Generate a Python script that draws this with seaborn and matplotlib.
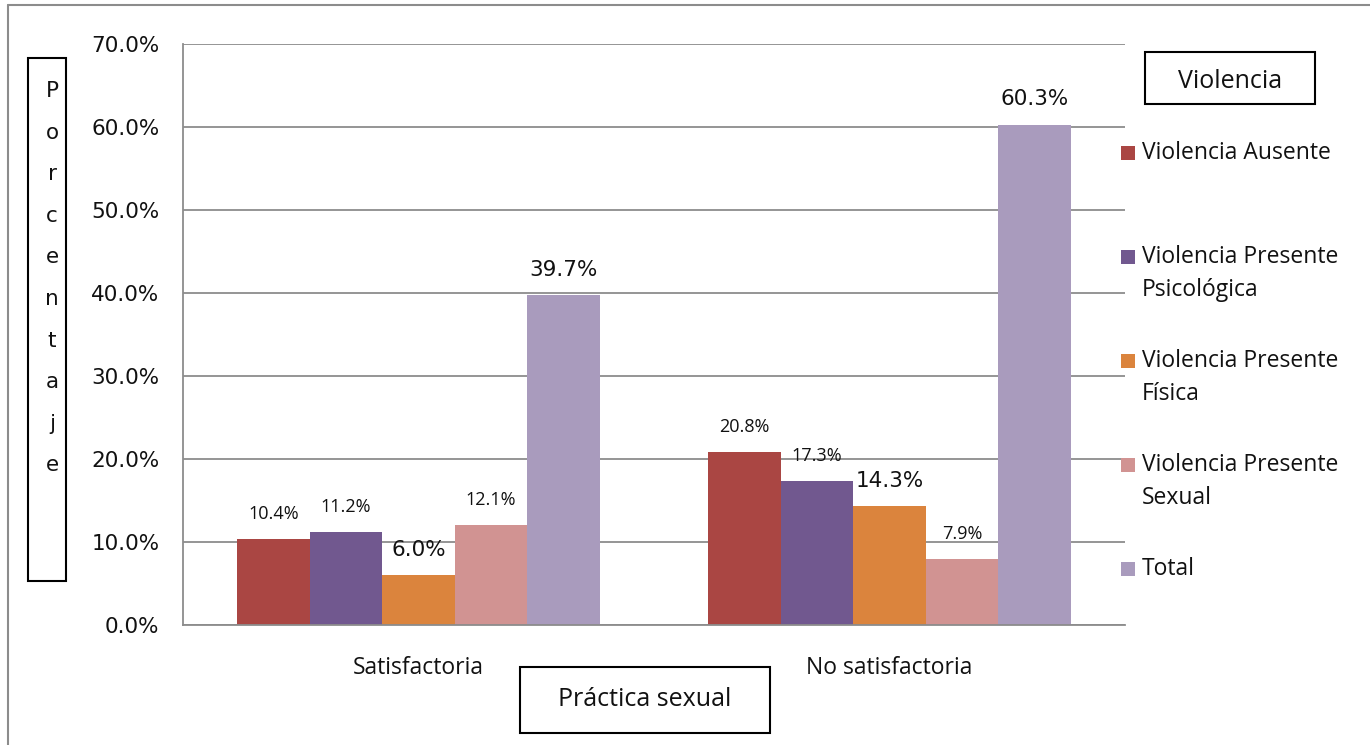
import pandas as pd
import matplotlib.pyplot as plt
import seaborn as sns
from matplotlib.patches import Rectangle
from matplotlib.lines import Line2D
from matplotlib.ticker import FuncFormatter

# data
categories = ["Satisfactoria", "No satisfactoria"]
series = ["Violencia Ausente", "Violencia Presente\nPsicológica",
          "Violencia Presente\nFísica", "Violencia Presente\nSexual", "Total"]
ausente = [10.4, 20.8]
psicologica = [11.2, 17.3]
fisica = [6.0, 14.3]
sexual = [12.1, 7.9]
total = [39.7, 60.3]
yticks = [0, 10, 20, 30, 40, 50, 60, 70]

colors = ["#AA4643", "#71588F", "#DB843D", "#D19392", "#A99BBD"]
# Física and Total use a bigger label font in the original
big_labels = [False, False, True, False, True]

df = pd.DataFrame({
    "Practica": categories * 5,
    "Violencia": [s for s in series for _ in categories],
    "Porcentaje": ausente + psicologica + fisica + sexual + total,
})

sns.set_style("white")
plt.rcParams["font.family"] = ["Open Sans", "DejaVu Sans"]

W, H = 1370, 745
fig = plt.figure(figsize=(W / 100, H / 100), dpi=100)


def px(x, y):
    return x / W, 1 - y / H


ax = fig.add_axes([183 / W, 1 - 625 / H, (1125 - 183) / W, (625 - 44) / H])
sns.barplot(data=df, x="Practica", y="Porcentaje", hue="Violencia",
            order=categories, hue_order=series, palette=colors,
            width=0.77, gap=0, saturation=1, legend=False, ax=ax)

for bars in ax.patches:
    bars.set_edgecolor("none")

# data labels
for cont, big in zip(ax.containers, big_labels):
    vals = cont.datavalues
    ax.bar_label(cont, labels=[f"{v:.1f}%" for v in vals],
                 padding=11 if big else 11.5,
                 fontsize=15.5 if big else 13,
                 family="DejaVu Sans" if big else "Open Sans",
                 color="#111111")

ax.set_xlim(-0.5, 1.5)
ax.set_ylim(0, 70)
ax.set_yticks(yticks)
ax.yaxis.set_major_formatter(FuncFormatter(lambda v, _: f"{v:.1f}%"))
ax.set_xlabel("")
ax.set_ylabel("")
ax.grid(axis="y", color="#8c8c8c", linewidth=1.3)
ax.set_axisbelow(True)

for side in ["top", "right"]:
    ax.spines[side].set_visible(False)
for side in ["left", "bottom"]:
    ax.spines[side].set_color("#8c8c8c")
    ax.spines[side].set_linewidth(1.3)

ax.tick_params(axis="y", length=7, width=1.2, color="#8c8c8c", pad=10,
               labelsize=15.5, labelcolor="#111111")
for lab in ax.get_yticklabels():
    lab.set_family("DejaVu Sans")
ax.tick_params(axis="x", which="major", length=0, pad=22, labelsize=16.5,
               labelcolor="#111111")
ax.set_xticks([-0.5, 0.5, 1.5], minor=True)
ax.tick_params(axis="x", which="minor", length=7, width=1.2, color="#8c8c8c")

# outer border (left and top visible)
fig.add_artist(Line2D([px(8, 0)[0], px(8, 0)[0]], [px(0, 5)[1], 0],
                      color="#8c8c8c", lw=1.5, transform=fig.transFigure))
fig.add_artist(Line2D([px(8, 0)[0], 1], [px(0, 5)[1], px(0, 5)[1]],
                      color="#8c8c8c", lw=1.5, transform=fig.transFigure))

# y axis title box with stacked letters
x0, y0 = px(28, 581)
fig.add_artist(Rectangle((x0, y0), 38 / W, (581 - 58) / H, fill=False,
                         edgecolor="black", lw=1.5, transform=fig.transFigure))
for i, ch in enumerate("Porcentaje"):
    fig.text(*px(52, 91 + 41.6 * i), ch, ha="center", va="center",
             fontsize=15.5, family="DejaVu Sans", color="#111111")

# x axis title box
x0, y0 = px(520, 733)
fig.add_artist(Rectangle((x0, y0), 250 / W, 66 / H, fill=False,
                         edgecolor="black", lw=1.5, transform=fig.transFigure))
fig.text(*px(645, 699), "Práctica sexual", ha="center", va="center",
         fontsize=18, color="#111111")

# legend title box
x0, y0 = px(1145, 104)
fig.add_artist(Rectangle((x0, y0), 170 / W, 52 / H, fill=False,
                         edgecolor="black", lw=1.5, transform=fig.transFigure))
fig.text(*px(1230, 81), "Violencia", ha="center", va="center",
         fontsize=18, color="#111111")

# legend entries
for i, (name, col) in enumerate(zip(series, colors)):
    yc = 153 + 104 * i
    fig.add_artist(Rectangle(px(1121, yc + 7), 14 / W, 14 / H, facecolor=col,
                             edgecolor="none", transform=fig.transFigure))
    for j, line in enumerate(name.split("\n")):
        fig.text(*px(1142, yc + 33 * j), line, ha="left", va="center",
                 fontsize=16.5, color="#111111")

fig.savefig("out.png", dpi=100)
